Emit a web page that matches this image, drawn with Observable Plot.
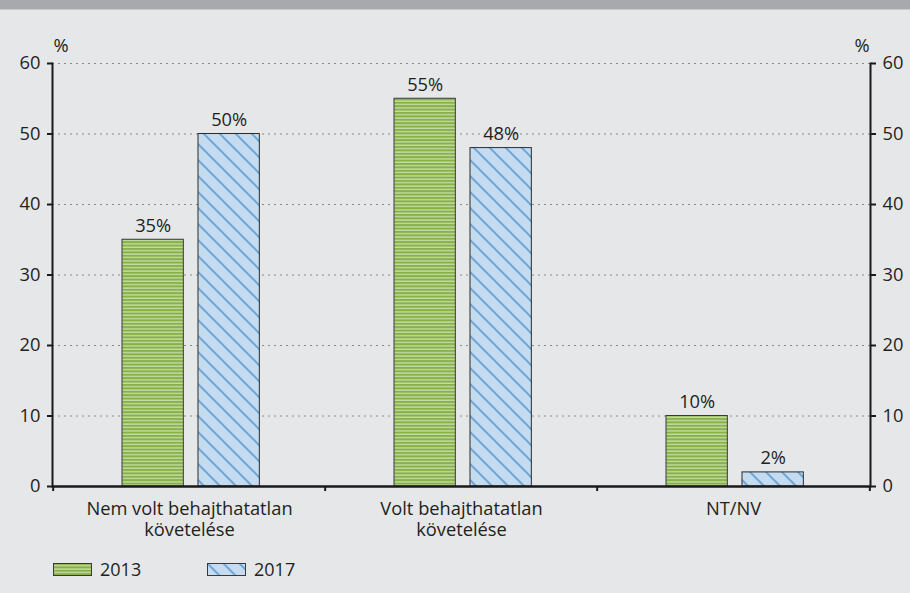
<!DOCTYPE html>
<html>
<head>
<meta charset="utf-8">
<script src="https://cdn.jsdelivr.net/npm/d3@7"></script>
<script src="https://cdn.jsdelivr.net/npm/@observablehq/plot@0.6"></script>
<style>
  html, body { margin: 0; padding: 0; }
  body { width: 910px; height: 593px; background: #e6e7e8; position: relative; overflow: hidden;
         font-family: "Open Sans", sans-serif; color: #231f20; }
  #band { position: absolute; left: 0; top: 0; width: 910px; height: 9px; background: #a7a9ac; border-bottom: 1px solid #c9cacc; }
  #chart { position: absolute; left: 0; top: 10px; }
  #legend { position: absolute; left: 0; top: 556px; width: 910px; height: 30px; }
  .item { position: absolute; top: 0; display: flex; align-items: center; height: 26px; font-size: 18px; }
  .item svg { margin-right: 8px; }
</style>
</head>
<body>
<svg width="0" height="0" style="position:absolute">
  <defs>
    <pattern id="pat2013" patternUnits="userSpaceOnUse" width="8" height="3.4">
      <rect width="8" height="3.4" fill="#c5dba2"></rect>
      <rect width="8" height="2" fill="#86b048"></rect>
    </pattern>
    <pattern id="pat2017" patternUnits="userSpaceOnUse" width="16" height="16">
      <rect width="16" height="16" fill="#c4dbf0"></rect>
      <path d="M-4,-4 L20,20 M-4,12 L4,20 M12,-4 L20,4" stroke="#6fa9da" stroke-width="2"></path>
    </pattern>
  </defs>
</svg>
<div id="band"></div>
<div id="chart"></div>
<div id="legend"></div>
<script>
// ---- data ----
const categories = ["Nem volt behajthatatlan\nkövetelése", "Volt behajthatatlan\nkövetelése", "NT/NV"];
const years = ["2013", "2017"];
const values2013 = [35, 55, 10];
const values2017 = [50, 48, 2];
const yTicks = [0, 10, 20, 30, 40, 50, 60];
const unitLabel = "%";

// ---- table built from arrays ----
const rows2013 = categories.map((c, i) => ({category: c, year: years[0], value: values2013[i]}));
const rows2017 = categories.map((c, i) => ({category: c, year: years[1], value: values2017[i]}));

const W = 910, H = 544;
const mL = 52, mR = 40, mT = 53, mB = 68;
const bw = (W - mL - mR) / categories.length;
const barW = 62, outer = 69, gap = 14;
const in1L = outer, in1R = bw - outer - barW;
const in2L = outer + barW + gap, in2R = bw - in2L - barW;
const c1 = in1L + barW / 2 - bw / 2;
const c2 = in2L + barW / 2 - bw / 2;
const font = "18.3px";

const chart = Plot.plot({
  width: W,
  height: H,
  marginLeft: mL,
  marginRight: mR,
  marginTop: mT,
  marginBottom: mB,
  style: {background: "transparent", fontFamily: "'Open Sans', sans-serif", fontSize: font, color: "#231f20"},
  x: {type: "band", domain: categories, padding: 0, axis: null},
  y: {domain: [0, 60], axis: null},
  marks: [
    Plot.gridY(yTicks, {stroke: "#8a8a8a", strokeOpacity: 1, strokeDasharray: "2,4"}),
    Plot.barY(rows2013, {x: "category", y: "value", fill: "url(#pat2013)", stroke: "#3a3a3a", strokeWidth: 1, insetLeft: in1L, insetRight: in1R}),
    Plot.barY(rows2017, {x: "category", y: "value", fill: "url(#pat2017)", stroke: "#2a2a2a", strokeWidth: 1, insetLeft: in2L, insetRight: in2R}),
    Plot.text(rows2013, {x: "category", y: "value", text: d => d.value + "%", dx: c1, dy: -8, lineAnchor: "bottom", fill: "#231f20"}),
    Plot.text(rows2017, {x: "category", y: "value", text: d => d.value + "%", dx: c2, dy: -8, lineAnchor: "bottom", fill: "#231f20"}),
    Plot.axisY(yTicks, {anchor: "left", tickSize: 5, tickPadding: 7, label: null, stroke: "#1a1a1a", strokeWidth: 2, fill: "#231f20"}),
    Plot.axisY(yTicks, {anchor: "right", tickSize: 5, tickPadding: 7, label: null, stroke: "#1a1a1a", strokeWidth: 2, fill: "#231f20"}),
    Plot.frame({anchor: "left", stroke: "#1a1a1a", strokeWidth: 2}),
    Plot.frame({anchor: "right", stroke: "#1a1a1a", strokeWidth: 2}),
    Plot.ruleY([0], {stroke: "#1a1a1a", strokeWidth: 2.5}),
    Plot.ruleX(categories, {x: d => d, y1: 0, y2: 0, dx: -bw / 2, insetBottom: -5, stroke: "#1a1a1a", strokeWidth: 2}),
    Plot.ruleX(categories.slice(-1), {x: d => d, y1: 0, y2: 0, dx: bw / 2, insetBottom: -5, stroke: "#1a1a1a", strokeWidth: 2}),
    Plot.text(categories, {x: d => d, text: d => d, frameAnchor: "bottom", lineAnchor: "top", dy: 14, lineHeight: 1.15, fill: "#231f20"}),
    Plot.text([unitLabel], {frameAnchor: "top-left", textAnchor: "start", lineAnchor: "middle", dx: 1, dy: -17, fill: "#231f20"}),
    Plot.text([unitLabel], {frameAnchor: "top-right", textAnchor: "end", lineAnchor: "middle", dx: -1, dy: -17, fill: "#231f20"})
  ]
});
document.getElementById("chart").appendChild(chart);

// ---- legend ----
const legend = document.getElementById("legend");
const legendX = [53, 207];
years.forEach((yr, i) => {
  const item = document.createElement("div");
  item.className = "item";
  item.style.left = legendX[i] + "px";
  item.innerHTML = `<svg width="39" height="13"><rect x="0.5" y="0.5" width="38" height="12" fill="url(#pat${yr})" stroke="#3a3a3a" stroke-width="1"></rect></svg><span>${yr}</span>`;
  legend.appendChild(item);
});
</script>
</body>
</html>
